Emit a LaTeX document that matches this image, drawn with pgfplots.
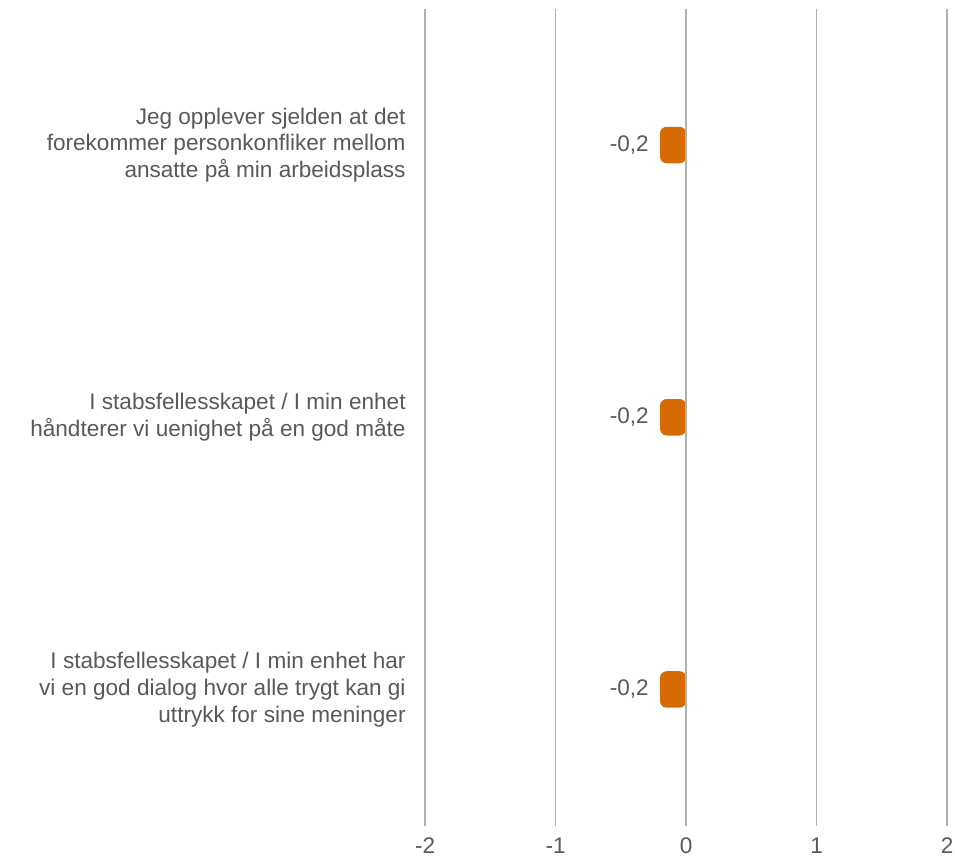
\documentclass[border=0pt]{standalone}
\usepackage{fontspec}
\setmainfont{Liberation Sans}
\usepackage{pgfplots}
\pgfplotsset{compat=1.18}
\definecolor{barorange}{RGB}{214,107,0}
\definecolor{txtgray}{RGB}{89,89,89}
\definecolor{gridgray}{RGB}{176,176,176}
\begin{document}
\begin{tikzpicture}[x=0.75pt,y=0.75pt]
\path[use as bounding box] (0,0) rectangle (959,864);
\begin{axis}[
    at={(427*0.75pt,35*0.75pt)}, anchor=south west,
    scale only axis,
    width=393pt, height=615pt,
    xbar, bar width=27.5pt,
    xmin=-2, xmax=2,
    ymin=-0.5, ymax=2.5,
    y dir=reverse,
    xtick={-2,-1,0,1,2},
    ytick={0,1,2},
    yticklabels={
      {Jeg opplever sjelden at det\\forekommer personkonfliker mellom\\ansatte på min arbeidsplass},
      {I stabsfellesskapet / I min enhet\\håndterer vi uenighet på en god måte},
      {I stabsfellesskapet / I min enhet har\\vi en god dialog hvor alle trygt kan gi\\uttrykk for sine meninger}},
    yticklabel style={align=right, font=\fontsize{17}{20.2}\selectfont, text=txtgray, xshift=-7pt},
    xticklabel style={font=\fontsize{17}{20}\selectfont, text=txtgray, yshift=-6pt},
    /pgf/number format/assume math mode=true,
    axis line style={draw=none},
    major tick style={draw=none},
    xmajorgrids,
    major grid style={draw=gridgray, line width=1.1pt},
    nodes near coords,
    nodes near coords style={anchor=east, xshift=-5pt, font=\fontsize{17}{20}\selectfont, text=txtgray,
      /pgf/number format/.cd, fixed, fixed zerofill, precision=1, use comma},
    axis on top,
]
\addplot[fill=barorange, draw=none, rounded corners=5pt] coordinates {(-0.2,0) (-0.2,1) (-0.2,2)};
\draw[gridgray!85!black, line width=1.4pt] (axis cs:0,-0.5) -- (axis cs:0,2.5);
\end{axis}
\end{tikzpicture}
\end{document}
